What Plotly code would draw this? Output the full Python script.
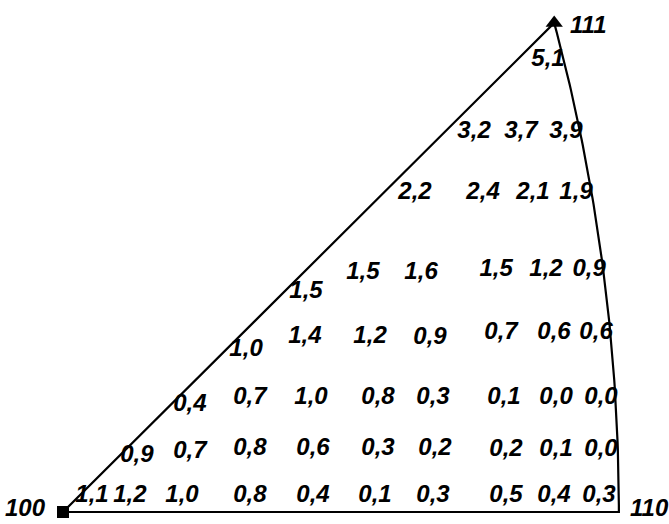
import numpy as np
import plotly.graph_objects as go

# Measured values at orientations inside the standard [100]-[110]-[111] triangle.
# Positions are stereographic coordinates (projection centred on [100]).
values = [
    "1,1", "1,2", "1,0", "0,8", "0,4", "0,1", "0,3", "0,5", "0,4", "0,3",
    "0,9", "0,7", "0,8", "0,6", "0,3", "0,2", "0,2", "0,1", "0,0",
    "0,4", "0,7", "1,0", "0,8", "0,3", "0,1", "0,0", "0,0",
    "1,0", "1,4", "1,2", "0,9", "0,7", "0,6", "0,6",
    "1,5", "1,5", "1,6", "1,5", "1,2", "0,9",
    "2,2", "2,4", "2,1", "1,9",
    "3,2", "3,7", "3,9",
    "5,1",
]
pos_x = [
    0.0216, 0.0499, 0.0887, 0.1393, 0.1863, 0.2325, 0.2757, 0.3301, 0.3659, 0.3994,
    0.0551, 0.0946, 0.1393, 0.1863, 0.2347, 0.2772, 0.3301, 0.3674, 0.4009,
    0.0946, 0.1393, 0.1848, 0.2347, 0.2757, 0.3286, 0.3674, 0.4009,
    0.1364, 0.1803, 0.2288, 0.2735, 0.3264, 0.3659, 0.3972,
    0.1811, 0.2235, 0.2668, 0.3227, 0.3599, 0.3920,
    0.2623, 0.3130, 0.3502, 0.3823,
    0.3063, 0.3413, 0.3748,
    0.3614,
]
pos_y = [
    0.0120, 0.0120, 0.0120, 0.0120, 0.0120, 0.0120, 0.0120, 0.0120, 0.0120, 0.0120,
    0.0419, 0.0449, 0.0472, 0.0472, 0.0472, 0.0472, 0.0464, 0.0464, 0.0464,
    0.0801, 0.0853, 0.0853, 0.0853, 0.0853, 0.0853, 0.0853, 0.0853,
    0.1213, 0.1310, 0.1310, 0.1302, 0.1340, 0.1340, 0.1340,
    0.1647, 0.1789, 0.1789, 0.1811, 0.1811, 0.1811,
    0.2388, 0.2388, 0.2388, 0.2388,
    0.2844, 0.2844, 0.2844,
    0.3383,
]

poles = ["100", "110", "111"]
directions = [(1, 0, 0), (1, 1, 0), (1, 1, 1)]


def stereo(v):
    v = np.asarray(v, dtype=float)
    v = v / np.linalg.norm(v, axis=-1, keepdims=True)
    return v[..., 1] / (1 + v[..., 0]), v[..., 2] / (1 + v[..., 0])


px, py = stereo(np.array(directions))

# Triangle boundary: two straight zones through the centre and the [110]-[111] arc
t = np.linspace(0, 1, 80)
ax, ay = stereo(np.stack([np.ones_like(t), np.ones_like(t), t], axis=1))
edge_x = np.concatenate([[px[0]], ax, [px[0]]])
edge_y = np.concatenate([[py[0]], ay, [py[0]]])

FONT = "Liberation Sans, Arial, sans-serif"
text_font = dict(family=FONT, size=24, color="black", style="italic", weight=600)

fig = go.Figure()
fig.add_trace(go.Scatter(
    x=edge_x, y=edge_y, mode="lines",
    line=dict(color="black", width=2.2), hoverinfo="skip", showlegend=False,
))
fig.add_trace(go.Scatter(
    x=[px[0]], y=[py[0]], mode="markers",
    marker=dict(symbol="square", size=12, color="black"), showlegend=False,
))
fig.add_trace(go.Scatter(
    x=[px[2]], y=[py[2]], mode="markers",
    marker=dict(symbol="triangle-up", size=15, color="black"), showlegend=False,
))
fig.add_trace(go.Scatter(
    x=pos_x, y=pos_y, mode="text", text=values,
    textposition="middle center", textfont=text_font, showlegend=False,
))

label_style = [
    dict(xanchor="right", yanchor="bottom", xshift=-15, yshift=-11),
    dict(xanchor="left", yanchor="bottom", xshift=9, yshift=-11),
    dict(xanchor="left", yanchor="middle", xshift=14, yshift=-2),
]
for name, x0, y0, st in zip(poles, px, py, label_style):
    fig.add_annotation(
        x=x0, y=y0, text=name, showarrow=False, font=text_font, **st,
    )

fig.update_layout(
    width=669, height=524,
    margin=dict(l=0, r=0, t=0, b=0),
    paper_bgcolor="white", plot_bgcolor="white",
    xaxis=dict(range=[-0.04694, 0.45156], visible=False, fixedrange=True),
    yaxis=dict(range=[-0.00898, 0.38323], visible=False, fixedrange=True),
)

fig.write_html("out.html")
